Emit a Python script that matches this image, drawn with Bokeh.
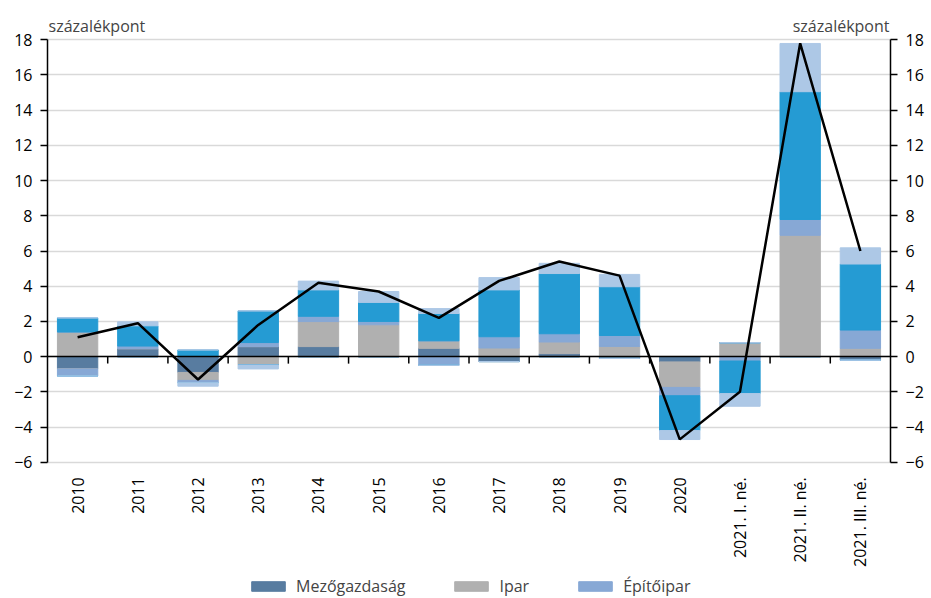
import numpy as np
from bokeh.plotting import figure
from bokeh.core.properties import value
from bokeh.models import (ColumnDataSource, Range1d, LinearAxis, Span,
                          FixedTicker, Legend, LegendItem, Label)
from bokeh.embed import file_html
from bokeh.resources import INLINE

# ---- data -------------------------------------------------------------
categories = ["2010", "2011", "2012", "2013", "2014", "2015", "2016", "2017",
              "2018", "2019", "2020", "2021. I. né.", "2021. II. né.",
              "2021. III. né."]
mezogazdasag = [-0.7, 0.45, -0.9, 0.57, 0.57, 0.0, 0.47, -0.28, 0.17, -0.1,
                -0.3, 0.0, 0.0, -0.2]
ipar = [1.4, 0.0, -0.45, -0.47, 1.42, 1.81, 0.43, 0.49, 0.66, 0.58, -1.45,
        0.79, 6.89, 0.47]
epitoipar = [-0.4, 0.15, -0.13, 0.23, 0.3, 0.19, -0.49, 0.64, 0.47, 0.62,
             -0.47, -0.25, 0.9, 1.04]
piaci_szolg = [0.8, 1.15, 0.38, 1.8, 1.5, 1.08, 1.55, 2.66, 3.42, 2.77, -1.98,
               -1.85, 7.26, 3.75]
egyeb = [0.0, 0.23, -0.2, -0.23, 0.5, 0.62, 0.28, 0.7, 0.58, 0.7, -0.51,
         -0.72, 2.74, 0.92]
gdp = [1.1, 1.9, -1.3, 1.8, 4.2, 3.7, 2.2, 4.3, 5.4, 4.6, -4.7, -2.0, 17.8,
       6.0]

series_names = ["Mezőgazdaság", "Ipar", "Építőipar", "Piaci szolgáltatások",
                "Egyéb"]
series_values = [mezogazdasag, ipar, epitoipar, piaci_szolg, egyeb]
legend_count = 3
colors = ["#587ca0", "#b0b0b0", "#87a8d5", "#259bd3", "#adc8e6"]
y_ticks = list(range(-6, 19, 2))
unit_label = "százalékpont"

FONT = "Open Sans"

# ---- source -----------------------------------------------------------
n = len(categories)
y_min, y_max = y_ticks[0], y_ticks[-1]
centers = np.arange(n) + 0.5
boundaries = np.arange(1, n)
data = {"x": centers, "gdp": gdp, "cat": categories,
        "ybase": [y_min] * n}
pos_cols, neg_cols = [], []
for i, vals in enumerate(series_values):
    a = np.array(vals, dtype=float)
    data[f"p{i}"] = np.where(a > 0, a, 0.0)
    data[f"n{i}"] = np.where(a < 0, a, 0.0)
    pos_cols.append(f"p{i}")
    neg_cols.append(f"n{i}")
src = ColumnDataSource(data)

# the frame spans the full height so that texts around the plot are not clipped
p = figure(x_range=Range1d(0, n), y_range=Range1d(-13.74, 20.23),
           width=931, height=598, output_backend="svg", toolbar_location=None,
           x_axis_location=None,
           min_border_left=47, min_border_right=41, min_border_top=0,
           min_border_bottom=0)
p.outline_line_color = None
p.xgrid.visible = False
p.ygrid.ticker = FixedTicker(ticks=y_ticks)
p.ygrid.grid_line_color = "#d9d9d9"
p.ygrid.grid_line_width = 1.5

pos_r = p.vbar_stack(pos_cols, x="x", width=0.67, color=colors, source=src)
neg_r = p.vbar_stack(neg_cols, x="x", width=0.67, color=colors, source=src)

# zero line with small ticks at category boundaries
p.add_layout(Span(location=0, dimension="width", line_color="black",
                  line_width=1.5))
p.ray(x=boundaries, y=np.zeros(len(boundaries)), length=7,
      length_units="screen", angle=-np.pi / 2, line_color="black",
      line_width=1.5)

p.line(x="x", y="gdp", source=src, color="black", line_width=2.5)

# category labels under the plot
p.text(x="x", y="ybase", text="cat", source=src, angle=np.pi / 2,
       text_align="right", text_baseline="middle", y_offset=15,
       text_font=value(FONT), text_font_size="16px", text_color="black")

overrides = {t: (f"\u2212{abs(t)}" if t < 0 else str(t)) for t in y_ticks}


def style_y(ax):
    ax.ticker = FixedTicker(ticks=y_ticks)
    ax.bounds = (y_min, y_max)
    ax.major_label_overrides = overrides
    ax.axis_line_color = "black"
    ax.axis_line_width = 1.5
    ax.major_tick_line_color = "black"
    ax.major_tick_line_width = 1.5
    ax.major_tick_out = 7
    ax.major_tick_in = 0
    ax.minor_tick_line_color = None
    ax.major_label_text_font = FONT
    ax.major_label_text_font_size = "16px"
    ax.major_label_text_color = "black"
    ax.major_label_standoff = 8


style_y(p.yaxis[0])
right_ax = LinearAxis()
style_y(right_ax)
p.add_layout(right_ax, "right")

items = [LegendItem(label=series_names[i], renderers=[pos_r[i]])
         for i in range(legend_count)]
legend = Legend(items=items, orientation="horizontal", location=(200, 1),
                glyph_width=42, glyph_height=12, spacing=45, label_standoff=7,
                label_text_font=FONT, label_text_font_size="16px",
                border_line_color=None, background_fill_alpha=0,
                padding=0, margin=0)
p.add_layout(legend, "center")

p.add_layout(Label(x=0, y=y_max, x_offset=1, y_offset=14,
                   text=unit_label, text_font=FONT, text_font_size="16px",
                   text_align="left", text_baseline="alphabetic"))
p.add_layout(Label(x=n, y=y_max, x_offset=-1, y_offset=14,
                   text=unit_label, text_font=FONT, text_font_size="16px",
                   text_align="right", text_baseline="alphabetic"))

open("out.html", "w").write(file_html(p, INLINE))
